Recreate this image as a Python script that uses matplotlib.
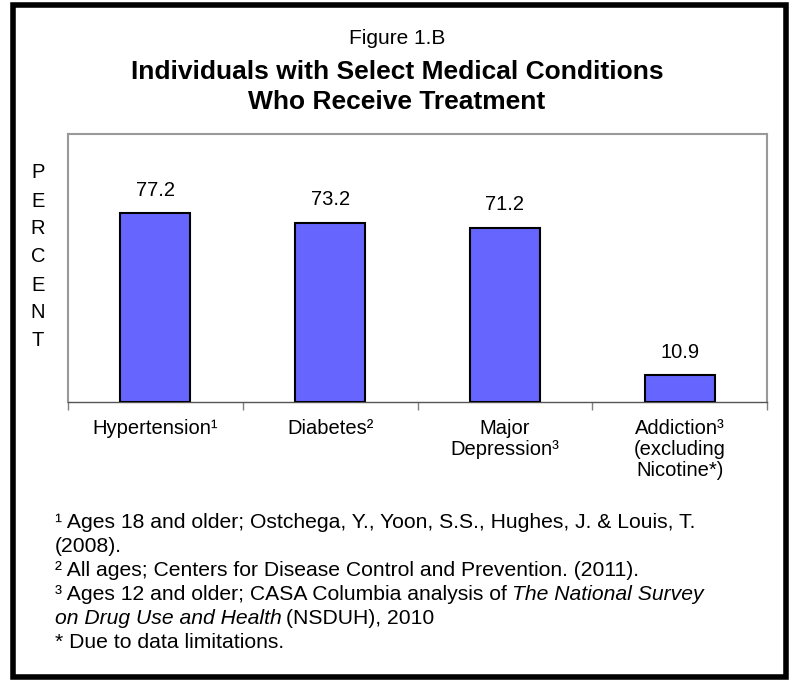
import matplotlib
matplotlib.use('Agg')
import matplotlib.pyplot as plt
from matplotlib.patches import Rectangle

plt.rcParams['font.family'] = ['Liberation Sans', 'DejaVu Sans']

# Data
categories = ['Hypertension\u00b9', 'Diabetes\u00b2', 'Major\nDepression\u00b3',
              'Addiction\u00b3\n(excluding\nNicotine*)']
values = [77.2, 73.2, 71.2, 10.9]
value_labels = ['77.2', '73.2', '71.2', '10.9']

W, H = 793, 680
fs = 14.5
fig = plt.figure(figsize=(W / 100, H / 100), dpi=100)

# outer frame
fig.patches.append(Rectangle((12.5 / W, 1 - 677 / H), 773 / W, 672 / H,
                             transform=fig.transFigure, fill=False,
                             edgecolor='black', linewidth=4))

# titles
fig.text(397 / W, 1 - 38 / H, 'Figure 1.B', ha='center', va='center', fontsize=15)
fig.text(397 / W, 1 - 72 / H, 'Individuals with Select Medical Conditions',
         ha='center', va='center', fontsize=19, fontweight='bold')
fig.text(397 / W, 1 - 102 / H, 'Who Receive Treatment',
         ha='center', va='center', fontsize=19, fontweight='bold')

# plot area
ax_l, ax_r, ax_t, ax_b = 68, 767, 134, 402
ax = fig.add_axes([ax_l / W, 1 - ax_b / H, (ax_r - ax_l) / W, (ax_b - ax_t) / H])

x = range(len(values))
ax.bar(x, values, width=0.4, color='#6666FF', edgecolor='black', linewidth=1.5, zorder=3)
for xi, v, lab in zip(x, values, value_labels):
    ax.annotate(lab, xy=(xi, v), xytext=(0, 23 * 0.72), textcoords='offset points',
                ha='center', va='center', fontsize=fs)

ax.set_xlim(-0.5, len(values) - 0.5)
ax.set_ylim(0, 109.5)
ax.set_yticks([])
ax.set_xticks([i - 0.5 for i in range(len(values) + 1)])
ax.set_xticklabels([])
ax.tick_params(axis='x', length=6, width=1, color='#808080', direction='out')
for s in ['left', 'right', 'top']:
    ax.spines[s].set_color('#999999')
    ax.spines[s].set_linewidth(1.5)
ax.spines['bottom'].set_color('#555555')
ax.spines['bottom'].set_linewidth(1)

# category labels
for xi, cat in zip(x, categories):
    ax.annotate(cat, xy=(xi, 0), xycoords=('data', 'axes fraction'),
                xytext=(0, -12), textcoords='offset points',
                ha='center', va='top', fontsize=fs, linespacing=1.15)

# vertical "PERCENT"
for i, ch in enumerate('PERCENT'):
    fig.text(38 / W, 1 - (173 + i * 28) / H, ch, ha='center', va='center', fontsize=fs)

# footnotes
fn_x = 55 / W
lines_y = [523, 547, 571, 595, 619, 643]
ffs = 15.2
fig.text(fn_x, 1 - lines_y[0] / H, '\u00b9 Ages 18 and older; Ostchega, Y., Yoon, S.S., Hughes, J. & Louis, T.',
         va='center', fontsize=ffs)
fig.text(fn_x, 1 - lines_y[1] / H, '(2008).', va='center', fontsize=ffs)
fig.text(fn_x, 1 - lines_y[2] / H, '\u00b2 All ages; Centers for Disease Control and Prevention. (2011).',
         va='center', fontsize=ffs)
t = fig.text(fn_x, 1 - lines_y[3] / H, '\u00b3 Ages 12 and older; CASA Columbia analysis of',
             va='center', fontsize=ffs)
fig.canvas.draw()
bb = t.get_window_extent()
fig.text((bb.x1 + 5) / W, 1 - lines_y[3] / H, 'The National Survey', va='center',
         fontsize=ffs, style='italic')
t2 = fig.text(fn_x, 1 - lines_y[4] / H, 'on Drug Use and Health', va='center',
              fontsize=ffs, style='italic')
fig.canvas.draw()
bb2 = t2.get_window_extent()
fig.text((bb2.x1 + 4) / W, 1 - lines_y[4] / H, '(NSDUH), 2010', va='center', fontsize=ffs)
fig.text(fn_x, 1 - lines_y[5] / H, '* Due to data limitations.', va='center', fontsize=ffs)

fig.savefig('out.png', dpi=100)
